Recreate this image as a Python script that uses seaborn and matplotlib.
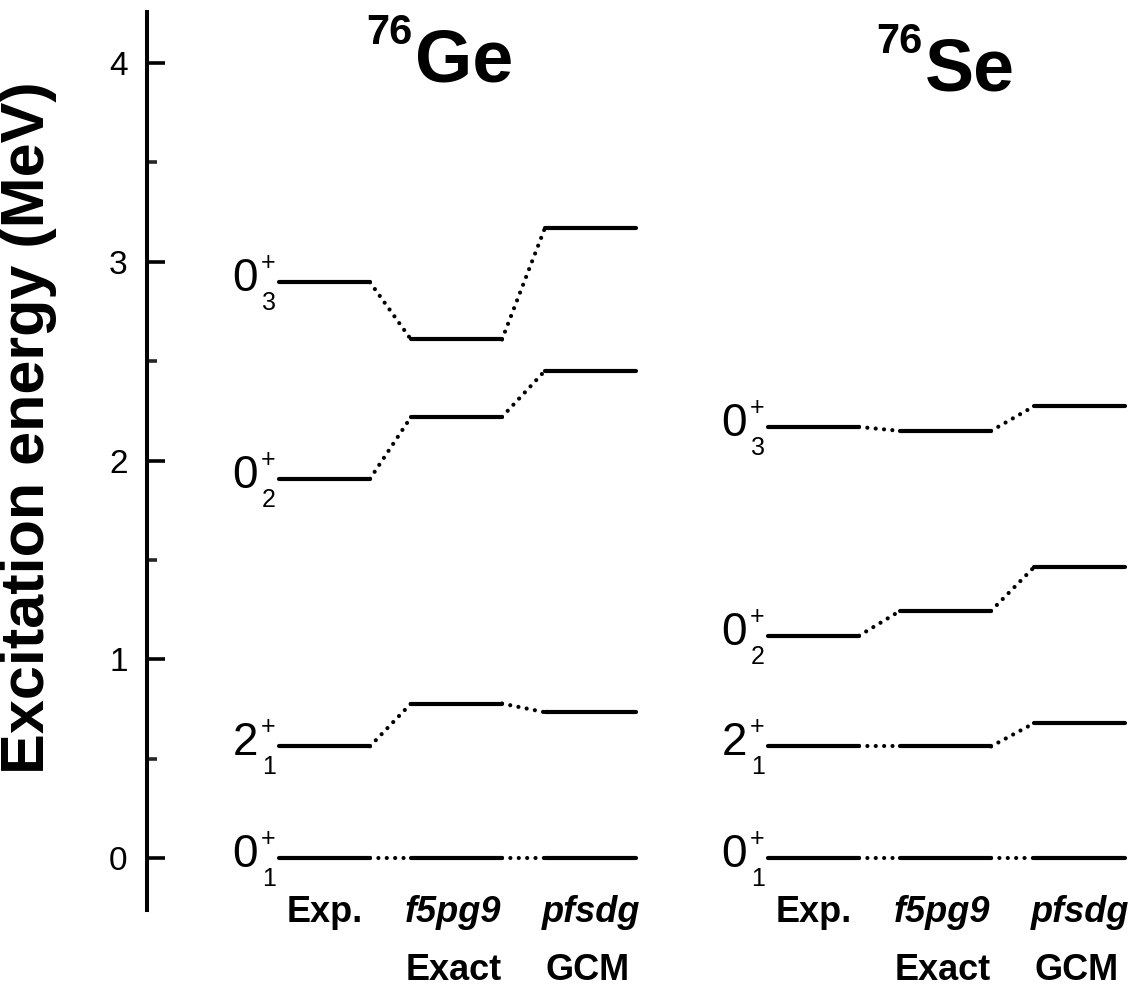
import matplotlib
matplotlib.use("Agg")
import matplotlib.pyplot as plt
import pandas as pd
import seaborn as sns
from matplotlib.ticker import MultipleLocator

# Excitation energies (MeV) of the 0+_1, 2+_1, 0+_2, 0+_3 states
spin = ["0", "2", "0", "0"]
level_index = ["1", "1", "2", "3"]
methods = ["Exp.", "f5pg9", "pfsdg"]
method_notes = ["", "Exact", "GCM"]
nuclei = ["Ge", "Se"]
mass_number = "76"

ge_exp = [0.0, 0.562, 1.908, 2.897]
ge_f5pg9 = [0.0, 0.777, 2.219, 2.609]
ge_pfsdg = [0.0, 0.733, 2.452, 3.171]

se_exp = [0.0, 0.561, 1.118, 2.169]
se_f5pg9 = [0.0, 0.561, 1.243, 2.149]
se_pfsdg = [0.0, 0.678, 1.463, 2.273]

energies = {"Ge": [ge_exp, ge_f5pg9, ge_pfsdg],
            "Se": [se_exp, se_f5pg9, se_pfsdg]}

# Horizontal layout (x axis runs in figure-pixel units)
W, H = 1144, 990
nucleus_origin = {"Ge": 279, "Se": 768}
column_offset = [0, 132, 266]
level_width = 91
label_shift = [0, -4, 1]

sns.set_theme(style="white")
plt.rcParams["font.family"] = ["Liberation Sans", "DejaVu Sans"]

# Level bars and dotted connectors as long-form tables
level_rows, link_rows = [], []
seg = 0
for nuc in nuclei:
    for j, vals in enumerate(energies[nuc]):
        x0 = nucleus_origin[nuc] + column_offset[j]
        for k, e in enumerate(vals):
            level_rows += [dict(x=x0, E=e, seg=seg), dict(x=x0 + level_width, E=e, seg=seg)]
            seg += 1
            if j < len(methods) - 1:
                x1 = nucleus_origin[nuc] + column_offset[j + 1]
                e1 = energies[nuc][j + 1][k]
                link_rows += [dict(x=x0 + level_width, E=e, seg=seg),
                              dict(x=x1, E=e1, seg=seg)]
                seg += 1
levels = pd.DataFrame(level_rows)
links = pd.DataFrame(link_rows)

fig = plt.figure(figsize=(W / 100, H / 100), dpi=100)
ax = fig.add_axes([147 / W, 1 - 910 / H, (W - 147) / W, (910 - 12) / H])

sns.lineplot(data=links, x="x", y="E", units="seg", estimator=None, sort=False,
             color="black", linewidth=3.0, linestyle=(0, (0.01, 2.0)),
             dash_capstyle="round", ax=ax, legend=False)
sns.lineplot(data=levels, x="x", y="E", units="seg", estimator=None, sort=False,
             color="black", linewidth=3.0, solid_capstyle="round",
             ax=ax, legend=False)

ax.set_xlim(147, W)
ax.set_ylim(-0.262, 4.257)
ax.set_xlabel("")
ax.set_ylabel("")
ax.set_xticks([])
for side in ["top", "right", "bottom"]:
    ax.spines[side].set_visible(False)
ax.spines["left"].set_linewidth(2.9)
ax.spines["left"].set_color("black")
ax.yaxis.set_major_locator(MultipleLocator(1))
ax.yaxis.set_minor_locator(MultipleLocator(0.5))
ax.tick_params(axis="y", which="major", direction="in", length=13, width=2.6,
               pad=14, labelsize=24, colors="black", left=True)
ax.tick_params(axis="y", which="minor", direction="in", length=7, width=2.6, left=True)
ax.patch.set_alpha(0)

# State labels next to the experimental levels
for nuc in nuclei:
    x0 = nucleus_origin[nuc]
    for k, e in enumerate(energies[nuc][0]):
        ax.annotate(spin[k], (x0, e), xytext=(-21, 3), textcoords="offset pixels",
                    ha="right", va="center", fontsize=33, color="black")
        ax.annotate("+", (x0, e), xytext=(-18, 19), textcoords="offset pixels",
                    ha="left", va="center", fontsize=18, color="black")
        ax.annotate(level_index[k], (x0, e), xytext=(-17, -21), textcoords="offset pixels",
                    ha="left", va="center", fontsize=18, color="black")

# Method labels below each column
for nuc in nuclei:
    for j, name in enumerate(methods):
        xc = nucleus_origin[nuc] + column_offset[j] + level_width / 2
        style = "normal" if j == 0 else "italic"
        ax.annotate(name, (xc + label_shift[j], H - 913), xycoords=("data", "figure pixels"),
                    ha="center", va="center", fontsize=26, fontweight="bold",
                    fontstyle=style, color="black", annotation_clip=False)
        if method_notes[j]:
            ax.annotate(method_notes[j], (xc - 3, H - 970), xycoords=("data", "figure pixels"),
                        ha="center", va="center", fontsize=26, fontweight="bold",
                        color="black", annotation_clip=False)

# Nucleus titles with mass-number superscripts
title_pos = {"Ge": (415, 82), "Se": (925, 91)}
for nuc in nuclei:
    px, py = title_pos[nuc]
    fig.text(px / W, 1 - py / H, nuc, ha="left", va="baseline",
             fontsize=53, fontweight="bold", color="black")
    fig.text((px - 3) / W, 1 - (py - 38) / H, mass_number, ha="right", va="baseline",
             fontsize=30, fontweight="bold", color="black")

fig.text(29 / W, 1 - 428 / H, "Excitation energy (MeV)", rotation=90,
         ha="center", va="center", fontsize=44, fontweight="bold", color="black")

fig.savefig("out.png", dpi=100, facecolor="white")
